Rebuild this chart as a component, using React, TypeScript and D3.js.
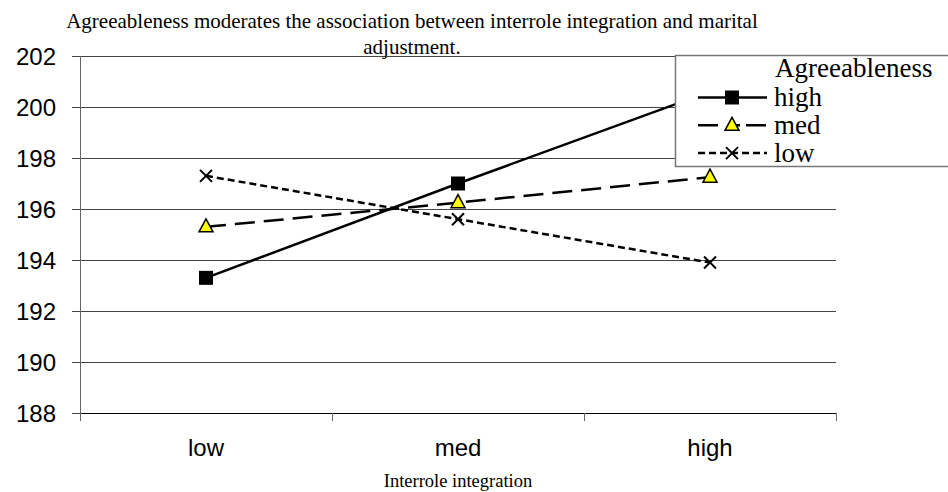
import React, { useEffect, useRef } from 'react';
import * as d3 from 'd3';

const categories = ['low', 'med', 'high'];
const yTicks = [188, 190, 192, 194, 196, 198, 200, 202];

const seriesNames = ['high', 'med', 'low'];
const highValues = [193.3, 197.0, 200.6];
const medValues = [195.3, 196.25, 197.25];
const lowValues = [197.3, 195.6, 193.9];

const titleLines = [
  'Agreeableness moderates the association between interrole integration and marital',
  'adjustment.',
];
const xTitle = 'Interrole integration';
const legendTitle = 'Agreeableness';

type Style = { dash: string | null; width: number; marker: 'square' | 'triangle' | 'cross' };
const styles: Record<string, Style> = {
  high: { dash: null, width: 2.5, marker: 'square' },
  med: { dash: '20,9', width: 2.5, marker: 'triangle' },
  low: { dash: '7,4', width: 2.5, marker: 'cross' },
};

const W = 948;
const H = 492;
const serif = '"Liberation Serif", "Times New Roman", serif';
const sans = '"Liberation Sans", Arial, sans-serif';

function drawMarker(g: d3.Selection<SVGGElement, unknown, null, undefined>, kind: string, cx: number, cy: number) {
  if (kind === 'square') {
    g.append('rect')
      .attr('x', cx - 7).attr('y', cy - 7)
      .attr('width', 14).attr('height', 14)
      .attr('fill', '#000');
  } else if (kind === 'triangle') {
    g.append('path')
      .attr('d', `M${cx},${cy - 8} L${cx + 7},${cy + 5} L${cx - 7},${cy + 5} Z`)
      .attr('fill', '#ffff00')
      .attr('stroke', '#000')
      .attr('stroke-width', 1.5)
      .attr('stroke-linejoin', 'miter');
  } else {
    g.append('path')
      .attr('d', `M${cx - 6},${cy - 6} L${cx + 6},${cy + 6} M${cx + 6},${cy - 6} L${cx - 6},${cy + 6}`)
      .attr('stroke', '#000')
      .attr('stroke-width', 2);
  }
}

export default function App() {
  const svgRef = useRef<SVGSVGElement>(null);

  useEffect(() => {
    document.body.style.margin = '0';
    if (!svgRef.current) return;

    const svg = d3.select(svgRef.current).html('');
    svg.append('rect').attr('width', W).attr('height', H).attr('fill', '#fff');

    const left = 80, right = 836, top = 56, bottom = 413;

    const x = d3.scaleBand<string>().domain(categories).range([left, right]);
    const y = d3.scaleLinear().domain([188, 202]).range([bottom, top]);
    const cx = (c: string) => (x(c) as number) + x.bandwidth() / 2;

    // gridlines
    svg.append('g')
      .selectAll('line')
      .data(yTicks)
      .enter()
      .append('line')
      .attr('x1', left - 8)
      .attr('x2', right)
      .attr('y1', d => Math.round(y(d)) + 0.5)
      .attr('y2', d => Math.round(y(d)) + 0.5)
      .attr('stroke', '#444')
      .attr('stroke-width', 1);

    // y axis
    svg.append('line')
      .attr('x1', left + 0.5).attr('x2', left + 0.5)
      .attr('y1', top).attr('y2', bottom)
      .attr('stroke', '#666');

    // x axis
    svg.append('line')
      .attr('x1', left).attr('x2', right)
      .attr('y1', bottom + 0.5).attr('y2', bottom + 0.5)
      .attr('stroke', '#000');
    const xTickPos = categories.map(c => x(c) as number).concat([right]);
    svg.append('g')
      .selectAll('line')
      .data(xTickPos)
      .enter()
      .append('line')
      .attr('x1', d => Math.round(d) + 0.5)
      .attr('x2', d => Math.round(d) + 0.5)
      .attr('y1', bottom)
      .attr('y2', bottom + 8)
      .attr('stroke', '#666');

    // y tick labels
    svg.append('g')
      .selectAll('text')
      .data(yTicks)
      .enter()
      .append('text')
      .attr('x', 56)
      .attr('y', d => y(d))
      .attr('dy', '0.36em')
      .attr('text-anchor', 'end')
      .attr('font-family', sans)
      .attr('font-size', 24)
      .attr('fill', '#000')
      .text(d => d);

    // x tick labels
    svg.append('g')
      .selectAll('text')
      .data(categories)
      .enter()
      .append('text')
      .attr('x', d => cx(d))
      .attr('y', 456)
      .attr('text-anchor', 'middle')
      .attr('font-family', sans)
      .attr('font-size', 24)
      .attr('fill', '#000')
      .text(d => d);

    // x title
    svg.append('text')
      .attr('x', 458)
      .attr('y', 487)
      .attr('text-anchor', 'middle')
      .attr('font-family', serif)
      .attr('font-size', 18.5)
      .text(xTitle);

    // series
    const data: Record<string, number[]> = { high: highValues, med: medValues, low: lowValues };
    const line = d3.line<number>()
      .x((_, i) => cx(categories[i]))
      .y(d => y(d));

    const seriesG = svg.append('g');
    seriesNames.slice().reverse().forEach(name => {
      const st = styles[name];
      seriesG.append('path')
        .attr('d', line(data[name]))
        .attr('fill', 'none')
        .attr('stroke', '#000')
        .attr('stroke-width', st.width)
        .attr('stroke-dasharray', st.dash)
        .attr('stroke-linecap', 'butt');
    });
    seriesNames.slice().reverse().forEach(name => {
      const st = styles[name];
      data[name].forEach((v, i) => drawMarker(seriesG, st.marker, cx(categories[i]), y(v)));
    });

    // title
    titleLines.forEach((t, i) => {
      svg.append('text')
        .attr('x', 412)
        .attr('y', 28 + i * 26)
        .attr('text-anchor', 'middle')
        .attr('font-family', serif)
        .attr('font-size', 21)
        .attr('fill', '#000')
        .text(t);
    });

    // legend
    const lg = svg.append('g');
    lg.append('rect')
      .attr('x', 675.5).attr('y', 55.5)
      .attr('width', 300).attr('height', 111)
      .attr('fill', '#fff')
      .attr('stroke', '#777')
      .attr('stroke-width', 1.5);
    lg.append('text')
      .attr('x', 775).attr('y', 77)
      .attr('font-family', serif)
      .attr('font-size', 27)
      .text(legendTitle);
    seriesNames.forEach((name, i) => {
      const st = styles[name];
      const ly = 97.5 + i * 27.8;
      lg.append('line')
        .attr('x1', 698).attr('x2', 767)
        .attr('y1', ly).attr('y2', ly)
        .attr('stroke', '#000')
        .attr('stroke-width', st.width)
        .attr('stroke-dasharray', name === 'med' ? '20,12,10,6' : st.dash);
      drawMarker(lg, st.marker, 732, ly);
      lg.append('text')
        .attr('x', 774).attr('y', ly + 8.5)
        .attr('font-family', serif)
        .attr('font-size', 27)
        .text(name);
    });
  }, []);

  return <svg ref={svgRef} width={W} height={H} style={{ display: 'block' }} />;
}
